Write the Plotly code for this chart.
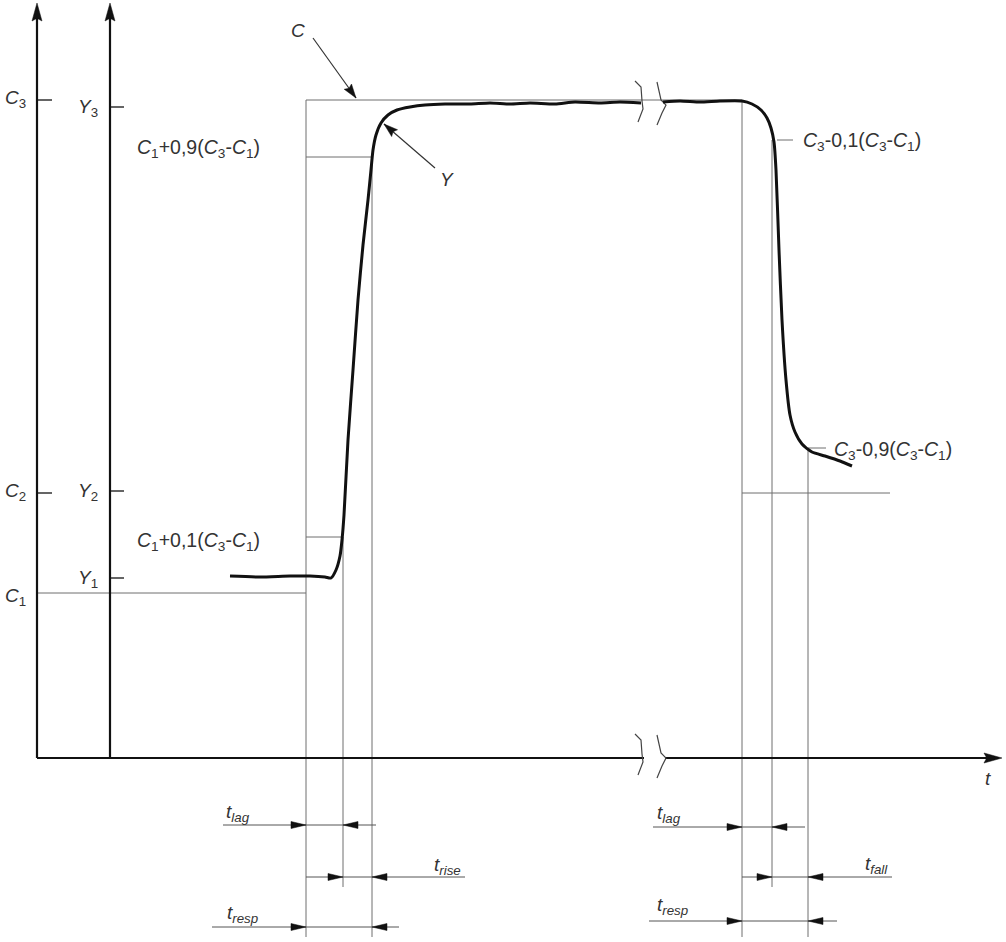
import plotly.graph_objects as go

# ---------------- data (diagram units: t to the right, signal upward) ----------------
# characteristic times
T_STEP_UP, T_RISE10, T_RISE90 = 269, 306, 335
T_STEP_DOWN, T_FALL10, T_FALL90 = 705, 735, 771
T_Y_AXIS = 73
T_BREAK = [604, 626]

# characteristic levels
C3, Y3, C2, Y2, Y1, C1 = 658, 651, 265, 267, 180, 165
LEVEL_90, LEVEL_10 = 601, 221
LEVEL_FALL10, LEVEL_FALL90 = 618, 310

# measured response curve Y
curve_t = [193, 223, 253, 273, 288, 294, 299, 303, 305, 307, 311, 316, 321, 326, 331, 334, 336,
           339, 344, 351, 360, 373, 388, 408, 433, 453, 473, 493, 518, 538, 563, 583, 604,
           None,
           626, 643, 663, 683, 705, 715, 724, 730, 734, 737, 739, 742, 745, 749, 753, 758, 765,
           775, 788, 803, 815]
curve_y = [182, 181, 182, 182, 181, 180, 188, 202, 218, 243, 318, 388, 458, 513, 558, 588, 608,
           623, 635, 643, 648, 651, 653, 654, 654, 655, 654, 655, 654, 656, 655, 656, 655,
           None,
           656, 657, 656, 657, 657, 654, 648, 640, 630, 616, 588, 508, 438, 378, 343, 326, 314,
           306, 302, 297, 292]

# axis-break glyph outlines (offsets from the break position)
break1_dt = [-6, 0, 1, 2, -3]
break1_dy = [21, 15, 1, -7, -20]
break2_dt = [-10, -8, -6, -1, -5, -10]
break2_dy = [20, 12, 2, -3, -11, -23]

# labels
TICK_C = [("C", "3", C3), ("C", "2", C2)]
TICK_Y = [("Y", "3", Y3), ("Y", "2", Y2), ("Y", "1", Y1)]
LBL_RISE90 = "<i>C</i><sub>1</sub>+0,9(<i>C</i><sub>3</sub>-<i>C</i><sub>1</sub>)"
LBL_RISE10 = "<i>C</i><sub>1</sub>+0,1(<i>C</i><sub>3</sub>-<i>C</i><sub>1</sub>)"
LBL_FALL10 = "<i>C</i><sub>3</sub>-0,1(<i>C</i><sub>3</sub>-<i>C</i><sub>1</sub>)"
LBL_FALL90 = "<i>C</i><sub>3</sub>-0,9(<i>C</i><sub>3</sub>-<i>C</i><sub>1</sub>)"

# dimension rows: (row level, line start, line end, right-pointing head at, left-pointing head at, label)
DIM_ROWS = [
    (-67, 186, 339, T_STEP_UP, T_RISE10, "lag"),
    (-119, T_STEP_UP, 428, T_RISE10, T_RISE90, "rise"),
    (-169, 175, 362, T_STEP_UP, T_RISE90, "resp"),
    (-69, 616, 768, T_STEP_DOWN, T_FALL10, "lag"),
    (-119, T_STEP_DOWN, 855, T_FALL10, T_FALL90, "fall"),
    (-163, 612, 800, T_STEP_DOWN, T_FALL90, "resp"),
]
DIM_LABEL_POS = [(187, -55), (395, -108), (188, -156), (618, -56), (826, -107), (618, -148)]

# ---------------- styling ----------------
INK = "#111111"
THIN = "#6f6f6f"
TXT = "#333333"
FONT = "Liberation Sans"
BOTTOM_LONG, BOTTOM_SHORT = -179, -129
AXIS_TOP, T_AXIS_END = 755, 965

fig = go.Figure()


def seg(xs, ys, color=THIN, width=1.0):
    fig.add_trace(go.Scatter(x=xs, y=ys, mode="lines", line=dict(color=color, width=width),
                             hoverinfo="skip"))


heads_x, heads_y = [], []


def head(tx, ty, dx, dy, length, half, notch=1.0):
    n = (dx * dx + dy * dy) ** 0.5
    ux, uy = dx / n, dy / n
    px, py = -uy, ux
    bx, by = tx - ux * length, ty - uy * length
    mx, my = tx - ux * length * notch, ty - uy * length * notch
    heads_x.extend([tx, bx + px * half, mx, bx - px * half, tx, None])
    heads_y.extend([ty, by + py * half, my, by - py * half, ty, None])


# thin construction lines
seg([0, T_STEP_UP, T_STEP_UP], [C1, C1, C3])                                  # C1 level + step up
seg([T_STEP_UP, T_STEP_DOWN], [C3, C3])                                       # C3 level
seg([T_STEP_UP, T_STEP_UP], [C1, BOTTOM_LONG])
seg([T_STEP_DOWN, T_STEP_DOWN], [C3, BOTTOM_LONG])
seg([T_STEP_UP, T_RISE90, T_RISE90], [LEVEL_90, LEVEL_90, BOTTOM_LONG])
seg([T_STEP_UP, T_RISE10, T_RISE10], [LEVEL_10, LEVEL_10, BOTTOM_SHORT])
seg([T_STEP_DOWN, 853], [C2, C2])
seg([T_FALL10, T_FALL10], [LEVEL_FALL10, BOTTOM_SHORT])
seg([740, 756], [LEVEL_FALL10, LEVEL_FALL10])
seg([T_FALL90, T_FALL90], [LEVEL_FALL90, BOTTOM_LONG])
seg([T_FALL90, 789], [LEVEL_FALL90, LEVEL_FALL90])

# dimension rows
for row_y, x0, x1, hr, hl, _ in DIM_ROWS:
    seg([x0, x1], [row_y, row_y], color="#555555", width=1.0)
    head(hr, row_y, 1, 0, 15, 3.5)
    head(hl, row_y, -1, 0, 15, 3.5)

# leader arrows C and Y
seg([276, 319], [720, 660], color="#333333", width=1.2)
head(319, 660, 43, -60, 14, 4.5, 0.85)
seg([398, 347], [590, 634], color="#333333", width=1.2)
head(347, 634, -51, 44, 14, 4.5, 0.85)

# axes
seg([0, 0], [0, AXIS_TOP - 10], color=INK, width=2.2)
seg([T_Y_AXIS, T_Y_AXIS], [0, AXIS_TOP - 10], color=INK, width=2.2)
seg([0, T_BREAK[0] + 3, None, T_BREAK[1] + 2, T_AXIS_END - 10], [0, 0, None, 0, 0], color=INK, width=2.2)
head(0, AXIS_TOP, 0, 1, 18, 5, 0.85)
head(T_Y_AXIS, AXIS_TOP, 0, 1, 18, 5, 0.85)
head(T_AXIS_END, 0, 1, 0, 18, 5, 0.85)

# ticks
for _, _, lvl in TICK_C:
    seg([0, 15], [lvl, lvl], color=INK, width=1.3)
for _, _, lvl in TICK_Y:
    seg([T_Y_AXIS, T_Y_AXIS + 14], [lvl, lvl], color=INK, width=1.3)

# break glyphs (on curve and on time axis)
for base_y in [656, 3]:
    seg([T_BREAK[0] + d for d in break1_dt], [base_y + d for d in break1_dy], color="#444444", width=1.2)
    seg([T_BREAK[1] + d + 4 for d in break2_dt], [base_y + d for d in break2_dy], color="#444444", width=1.2)

# response curve
fig.add_trace(go.Scatter(x=curve_t, y=curve_y, mode="lines", line=dict(color=INK, width=3, shape="spline",
                                                                       smoothing=0.6),
                         connectgaps=False, hoverinfo="skip"))

# arrowheads
fig.add_trace(go.Scatter(x=heads_x, y=heads_y, mode="lines", fill="toself", fillcolor=INK,
                         line=dict(color=INK, width=0.5), hoverinfo="skip"))

# ---------------- text ----------------
ann = []


def txt(x, y, s, anchor="left", size=19):
    ann.append(dict(x=x, y=y, text=s, showarrow=False, xanchor=anchor, yanchor="middle",
                    font=dict(family=FONT, size=size, color=TXT)))


for letter, sub, lvl in TICK_C:
    txt(-34, lvl + 1, f"<i>{letter}</i><sub>{sub}</sub>")
txt(-34, C1 - 4, "<i>C</i><sub>1</sub>")
for letter, sub, lvl in TICK_Y:
    txt(39, lvl - 1, f"<i>{letter}</i><sub>{sub}</sub>")
txt(98, 610, LBL_RISE90, size=19.5)
txt(98, 217, LBL_RISE10, size=19.5)
txt(764, 617, LBL_FALL10, size=19.5)
txt(795, 308, LBL_FALL90, size=19.5)
txt(261, 728, "<i>C</i>", anchor="center")
txt(410, 579, "<i>Y</i>", anchor="center")
txt(951, -20, "<i>t</i>", anchor="center")
for (row_y, _, _, _, _, name), (lx, ly) in zip(DIM_ROWS, DIM_LABEL_POS):
    txt(lx, ly, f"<i>t</i><sub><i>{name}</i></sub>")

# 1 data unit = 1 pixel; the page margin is removed so the figure fills the window
fig.update_layout(
    width=1006, height=942, margin=dict(l=0, r=0, t=0, b=0),
    paper_bgcolor="white", plot_bgcolor="white", showlegend=False, hovermode=False,
    xaxis=dict(range=[-37, 969], visible=False, fixedrange=True),
    yaxis=dict(range=[-184, 758], visible=False, fixedrange=True),
    annotations=ann,
)

fig.write_html("out.html", config={"displayModeBar": False},
               post_script="document.body.style.margin='0';document.body.style.overflow='hidden';")
